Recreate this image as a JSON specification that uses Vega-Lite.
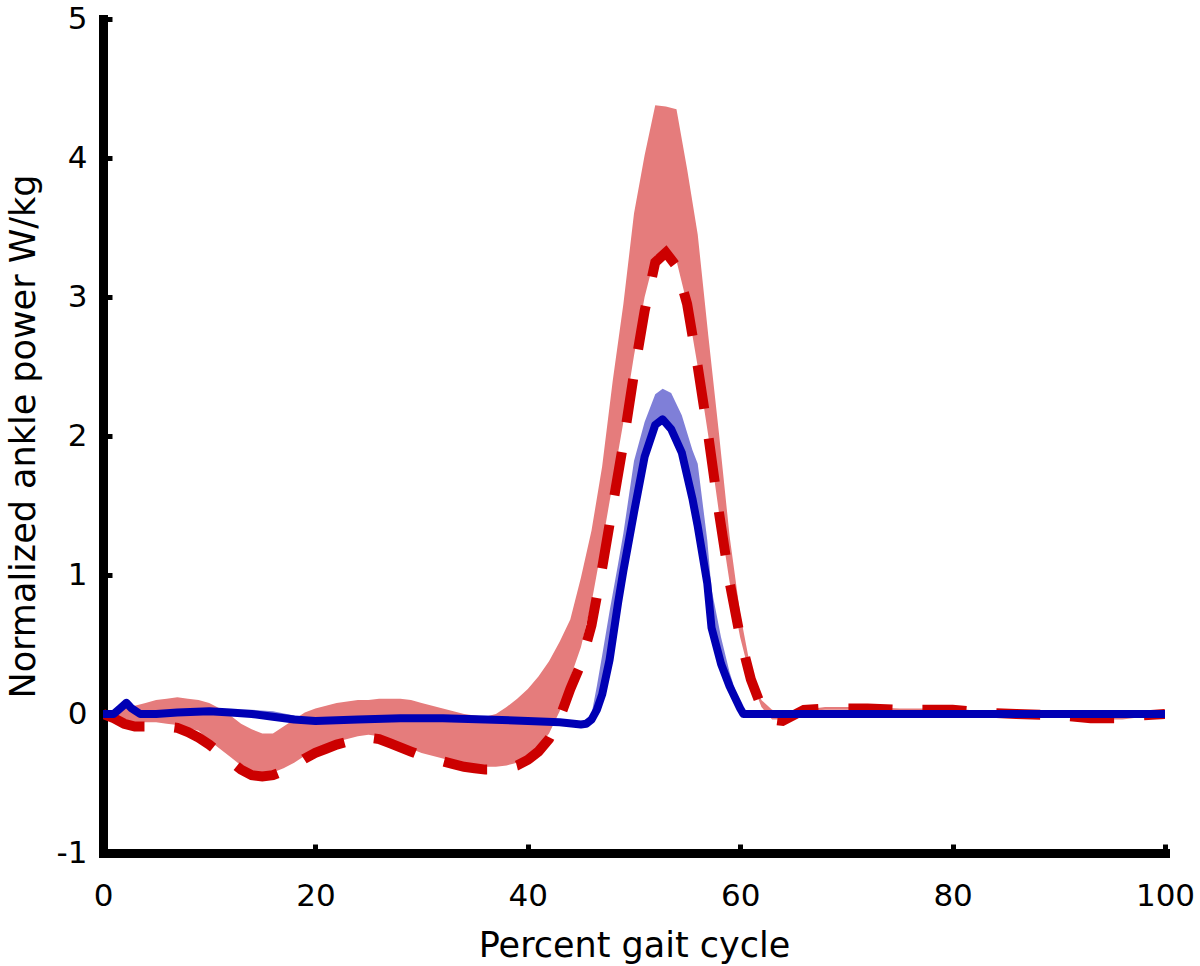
{
  "$schema": "https://vega.github.io/schema/vega-lite/v6.json",
  "width": 1062,
  "height": 834,
  "autosize": {"type": "none"},
  "padding": {"left": 103, "top": 19, "right": 35, "bottom": 113},
  "background": "white",
  "config": {
    "view": {"stroke": null},
    "font": "DejaVu Sans",
    "axis": {
      "domainColor": "black",
      "domainWidth": 9,
      "domainCap": "square",
      "tickColor": "black",
      "tickWidth": 5,
      "tickSize": -9,
      "labelFont": "DejaVu Sans",
      "labelFontSize": 31,
      "labelColor": "black",
      "titleFont": "DejaVu Sans",
      "titleFontSize": 35,
      "titleFontWeight": "normal",
      "titleColor": "black",
      "grid": false
    }
  },
  "datasets": {
    "red": [
      {"x": 0, "m": 0, "lo": 0, "hi": 0},
      {"x": 1, "m": -0.03, "lo": -0.01, "hi": 0.02},
      {"x": 2, "m": -0.07, "lo": -0.04, "hi": 0.04},
      {"x": 3, "m": -0.09, "lo": -0.06, "hi": 0.06},
      {"x": 4, "m": -0.09, "lo": -0.06, "hi": 0.08},
      {"x": 5, "m": -0.09, "lo": -0.06, "hi": 0.10},
      {"x": 6, "m": -0.09, "lo": -0.07, "hi": 0.11},
      {"x": 7, "m": -0.10, "lo": -0.08, "hi": 0.12},
      {"x": 8, "m": -0.13, "lo": -0.10, "hi": 0.11},
      {"x": 9, "m": -0.17, "lo": -0.12, "hi": 0.10},
      {"x": 10, "m": -0.22, "lo": -0.19, "hi": 0.08},
      {"x": 11, "m": -0.28, "lo": -0.25, "hi": 0.04},
      {"x": 12, "m": -0.34, "lo": -0.31, "hi": -0.01},
      {"x": 13, "m": -0.40, "lo": -0.37, "hi": -0.07},
      {"x": 14, "m": -0.44, "lo": -0.42, "hi": -0.11},
      {"x": 15, "m": -0.45, "lo": -0.43, "hi": -0.14},
      {"x": 16, "m": -0.44, "lo": -0.42, "hi": -0.14},
      {"x": 17, "m": -0.41, "lo": -0.39, "hi": -0.09},
      {"x": 18, "m": -0.37, "lo": -0.35, "hi": -0.04},
      {"x": 19, "m": -0.32, "lo": -0.30, "hi": 0.01},
      {"x": 20, "m": -0.28, "lo": -0.26, "hi": 0.04},
      {"x": 21, "m": -0.25, "lo": -0.23, "hi": 0.06},
      {"x": 22, "m": -0.22, "lo": -0.20, "hi": 0.08},
      {"x": 23, "m": -0.20, "lo": -0.18, "hi": 0.09},
      {"x": 24, "m": -0.18, "lo": -0.16, "hi": 0.10},
      {"x": 25, "m": -0.17, "lo": -0.15, "hi": 0.10},
      {"x": 26, "m": -0.18, "lo": -0.16, "hi": 0.11},
      {"x": 27, "m": -0.21, "lo": -0.19, "hi": 0.11},
      {"x": 28, "m": -0.24, "lo": -0.22, "hi": 0.11},
      {"x": 29, "m": -0.27, "lo": -0.25, "hi": 0.10},
      {"x": 30, "m": -0.30, "lo": -0.28, "hi": 0.08},
      {"x": 31, "m": -0.32, "lo": -0.30, "hi": 0.06},
      {"x": 32, "m": -0.34, "lo": -0.32, "hi": 0.04},
      {"x": 33, "m": -0.36, "lo": -0.34, "hi": 0.02},
      {"x": 34, "m": -0.38, "lo": -0.36, "hi": 0.00},
      {"x": 35, "m": -0.39, "lo": -0.37, "hi": -0.01},
      {"x": 36, "m": -0.40, "lo": -0.38, "hi": -0.02},
      {"x": 37, "m": -0.40, "lo": -0.38, "hi": 0.00},
      {"x": 38, "m": -0.39, "lo": -0.37, "hi": 0.05},
      {"x": 39, "m": -0.37, "lo": -0.35, "hi": 0.11},
      {"x": 40, "m": -0.33, "lo": -0.31, "hi": 0.18},
      {"x": 41, "m": -0.27, "lo": -0.24, "hi": 0.27},
      {"x": 42, "m": -0.18, "lo": -0.14, "hi": 0.38},
      {"x": 43, "m": -0.03, "lo": 0.02, "hi": 0.52},
      {"x": 44, "m": 0.18, "lo": 0.26, "hi": 0.68},
      {"x": 45, "m": 0.36, "lo": 0.48, "hi": 0.98},
      {"x": 46, "m": 0.64, "lo": 0.80, "hi": 1.32},
      {"x": 47, "m": 1.05, "lo": 1.22, "hi": 1.78},
      {"x": 48, "m": 1.50, "lo": 1.66, "hi": 2.40},
      {"x": 49, "m": 1.95, "lo": 2.10, "hi": 2.95},
      {"x": 50, "m": 2.45, "lo": 2.58, "hi": 3.60},
      {"x": 51, "m": 2.90, "lo": 3.00, "hi": 4.02},
      {"x": 52, "m": 3.25, "lo": 3.30, "hi": 4.38},
      {"x": 53, "m": 3.32, "lo": 3.31, "hi": 4.37},
      {"x": 54, "m": 3.22, "lo": 3.26, "hi": 4.35},
      {"x": 55, "m": 2.95, "lo": 2.95, "hi": 3.92},
      {"x": 56, "m": 2.50, "lo": 2.50, "hi": 3.45},
      {"x": 57, "m": 2.00, "lo": 2.00, "hi": 2.72},
      {"x": 58, "m": 1.45, "lo": 1.45, "hi": 2.02},
      {"x": 59, "m": 0.95, "lo": 0.95, "hi": 1.28},
      {"x": 60, "m": 0.55, "lo": 0.55, "hi": 0.72},
      {"x": 61, "m": 0.25, "lo": 0.25, "hi": 0.32},
      {"x": 62, "m": 0.05, "lo": 0.05, "hi": 0.10},
      {"x": 63, "m": -0.04, "lo": -0.04, "hi": 0.03},
      {"x": 64, "m": -0.05, "lo": -0.04, "hi": 0.01},
      {"x": 65, "m": -0.01, "lo": -0.01, "hi": 0.01},
      {"x": 66, "m": 0.03, "lo": 0.02, "hi": 0.03},
      {"x": 68, "m": 0.04, "lo": 0.03, "hi": 0.05},
      {"x": 70, "m": 0.04, "lo": 0.03, "hi": 0.05},
      {"x": 72, "m": 0.04, "lo": 0.03, "hi": 0.05},
      {"x": 75, "m": 0.03, "lo": 0.02, "hi": 0.04},
      {"x": 78, "m": 0.03, "lo": 0.02, "hi": 0.04},
      {"x": 80, "m": 0.03, "lo": 0.02, "hi": 0.04},
      {"x": 83, "m": 0.01, "lo": 0.00, "hi": 0.02},
      {"x": 86, "m": 0.00, "lo": -0.01, "hi": 0.01},
      {"x": 90, "m": -0.01, "lo": -0.02, "hi": 0.00},
      {"x": 93, "m": -0.03, "lo": -0.04, "hi": -0.02},
      {"x": 96, "m": -0.03, "lo": -0.04, "hi": -0.02},
      {"x": 98, "m": -0.01, "lo": -0.02, "hi": 0.00},
      {"x": 100, "m": 0, "lo": 0, "hi": 0}
    ],
    "blue": [
      {"x": 0, "b": 0, "bhi": 0.01},
      {"x": 1, "b": 0, "bhi": 0.01},
      {"x": 1.6, "b": 0.04, "bhi": 0.05},
      {"x": 2.2, "b": 0.08, "bhi": 0.09},
      {"x": 2.7, "b": 0.04, "bhi": 0.05},
      {"x": 3.5, "b": 0.0, "bhi": 0.01},
      {"x": 5, "b": 0.0, "bhi": 0.01},
      {"x": 7, "b": 0.01, "bhi": 0.02},
      {"x": 10, "b": 0.02, "bhi": 0.03},
      {"x": 12, "b": 0.01, "bhi": 0.03},
      {"x": 14, "b": 0.0, "bhi": 0.03},
      {"x": 16, "b": -0.02, "bhi": 0.02},
      {"x": 18, "b": -0.04, "bhi": -0.01},
      {"x": 20, "b": -0.05, "bhi": -0.03},
      {"x": 22, "b": -0.045, "bhi": -0.03},
      {"x": 24, "b": -0.04, "bhi": -0.03},
      {"x": 28, "b": -0.03, "bhi": -0.02},
      {"x": 32, "b": -0.03, "bhi": -0.02},
      {"x": 36, "b": -0.04, "bhi": -0.03},
      {"x": 40, "b": -0.05, "bhi": -0.04},
      {"x": 43, "b": -0.06, "bhi": -0.05},
      {"x": 45, "b": -0.075, "bhi": -0.06},
      {"x": 45.5, "b": -0.07, "bhi": -0.04},
      {"x": 46, "b": -0.04, "bhi": 0.0},
      {"x": 46.5, "b": 0.03, "bhi": 0.2},
      {"x": 47, "b": 0.14, "bhi": 0.42},
      {"x": 47.7, "b": 0.39, "bhi": 0.74},
      {"x": 48.5, "b": 0.80, "bhi": 1.08},
      {"x": 49, "b": 1.03, "bhi": 1.30},
      {"x": 50, "b": 1.45, "bhi": 1.82},
      {"x": 51, "b": 1.85, "bhi": 2.10},
      {"x": 52, "b": 2.08, "bhi": 2.30},
      {"x": 52.7, "b": 2.12, "bhi": 2.34},
      {"x": 53.5, "b": 2.05, "bhi": 2.31},
      {"x": 54.5, "b": 1.88, "bhi": 2.15},
      {"x": 55.5, "b": 1.55, "bhi": 1.90},
      {"x": 56, "b": 1.35, "bhi": 1.80},
      {"x": 56.9, "b": 0.94, "bhi": 1.25},
      {"x": 57.3, "b": 0.62, "bhi": 0.90},
      {"x": 58.2, "b": 0.36, "bhi": 0.55},
      {"x": 59, "b": 0.20, "bhi": 0.30},
      {"x": 60, "b": 0.04, "bhi": 0.06},
      {"x": 60.3, "b": 0.0, "bhi": 0.0},
      {"x": 80, "b": 0, "bhi": 0},
      {"x": 100, "b": 0, "bhi": 0}
    ]
  },
  "layer": [
    {
      "data": {"name": "red"},
      "mark": {"type": "area", "color": "#e57c7c", "opacity": 1, "clip": true},
      "encoding": {
        "x": {"field": "x", "type": "quantitative", "scale": {"domain": [0, 100], "nice": false, "zero": false}, "title": "Percent gait cycle",
              "axis": {"values": [0, 20, 40, 60, 80, 100], "labelExpr": "'' + datum.value", "labelPadding": 37, "titlePadding": 17, "labelFlush": false}},
        "y": {"field": "lo", "type": "quantitative", "scale": {"domain": [-1, 5], "nice": false, "zero": false}, "title": "Normalized ankle power W/kg",
              "axis": {"values": [-1, 0, 1, 2, 3, 4, 5], "labelExpr": "'' + datum.value", "labelPadding": 25, "titlePadding": 15, "labelFlush": false}},
        "y2": {"field": "hi"}
      }
    },
    {
      "data": {"name": "blue"},
      "mark": {"type": "area", "color": "#7f7fd8", "opacity": 1, "clip": true},
      "encoding": {
        "x": {"field": "x", "type": "quantitative", "title": "Percent gait cycle"},
        "y": {"field": "b", "type": "quantitative", "title": "Normalized ankle power W/kg"},
        "y2": {"field": "bhi"}
      }
    },
    {
      "data": {"name": "red"},
      "mark": {"type": "line", "color": "#cc0000", "strokeWidth": 10, "strokeDash": [44, 30], "strokeCap": "butt", "clip": true},
      "encoding": {
        "x": {"field": "x", "type": "quantitative", "title": "Percent gait cycle"},
        "y": {"field": "m", "type": "quantitative", "title": "Normalized ankle power W/kg"}
      }
    },
    {
      "data": {"name": "blue"},
      "mark": {"type": "line", "color": "#0000b4", "strokeWidth": 8, "strokeJoin": "round", "clip": true},
      "encoding": {
        "x": {"field": "x", "type": "quantitative", "title": "Percent gait cycle"},
        "y": {"field": "b", "type": "quantitative", "title": "Normalized ankle power W/kg"}
      }
    }
  ]
}
